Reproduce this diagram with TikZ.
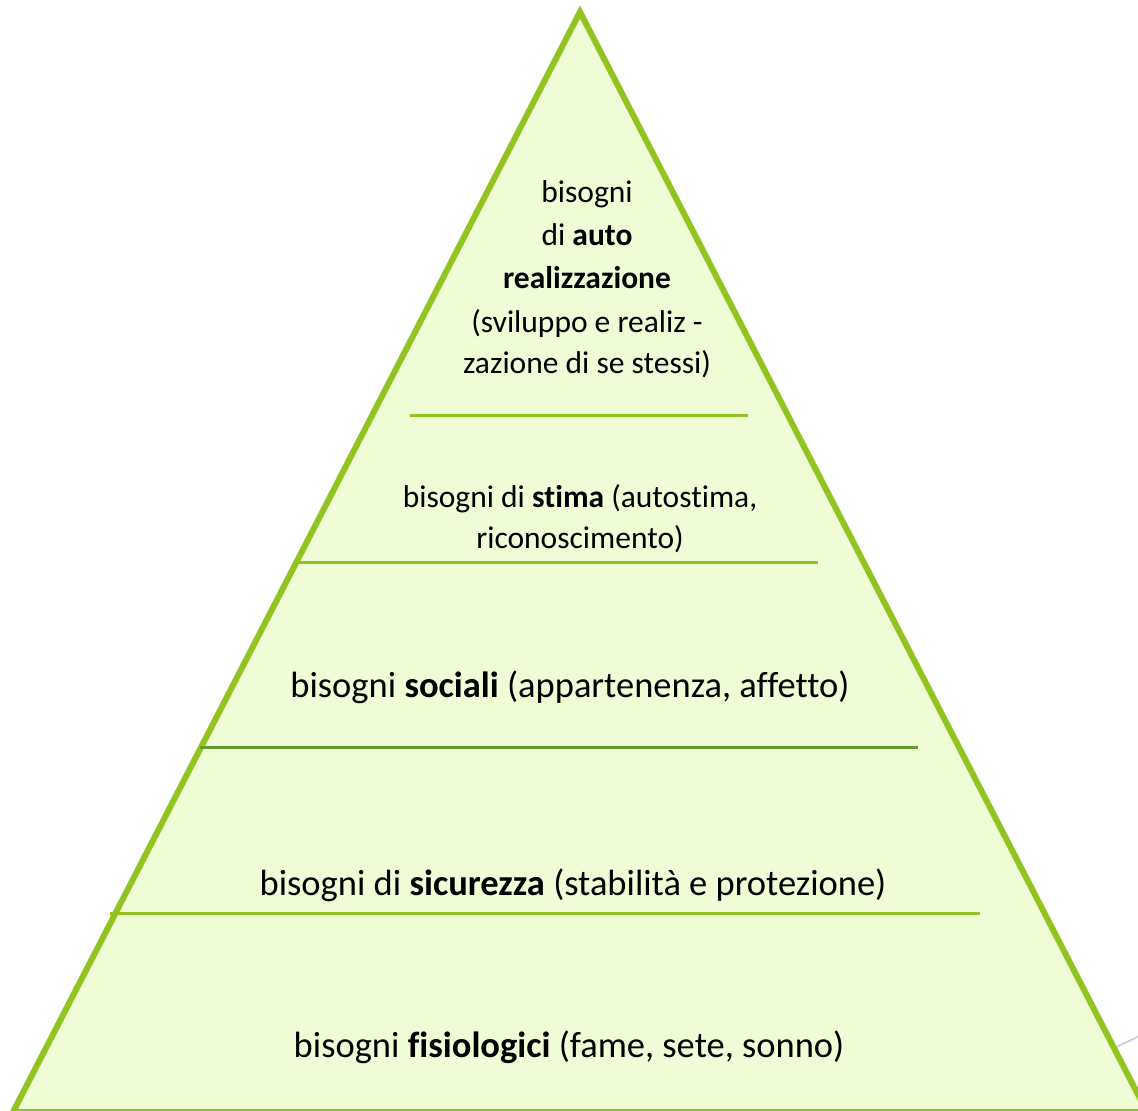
\documentclass[tikz,border=0pt]{standalone}
\usepackage{fontspec}
\setmainfont{Carlito}[RawFeature={-liga}]
\usepackage{xcolor}
\usetikzlibrary{calc}

\definecolor{pyrfill}{HTML}{EFFCD6}
\definecolor{pyredge}{HTML}{92C421}
\definecolor{pyrdark}{HTML}{5E9F2A}

\begin{document}
\begin{tikzpicture}[
    x=1pt, y=-1pt,
    level/.style={draw=pyredge, line width=3pt},
    smalltext/.style={inner sep=0pt, anchor=base, align=center, font=\fontsize{31.5}{43}\selectfont},
    bigtext/.style={inner sep=0pt, anchor=base, font=\fontsize{36.5}{43}\selectfont}
]
\useasboundingbox (0,0) rectangle (1138,1111);
\clip (0,0) rectangle (1138,1111);

% Pyramid
\coordinate (apex) at (580,12);
\coordinate (baseL) at (13,1112);
\coordinate (baseR) at (1147,1112);
\draw[draw=gray!35, line width=2pt] ($(apex)!0.942!(baseR)$) -- (1152,1030);
\draw[fill=pyrfill, draw=pyredge, line width=6pt] (apex) -- (baseL) -- (baseR) -- cycle;

% Levels
\draw[level] (410,415) -- (748,415);
\draw[level] (298,562) -- (818,562);
\draw[level, draw=pyrdark] (200,747) -- (918,747);
\draw[level] (110,913) -- (980,913);

% Texts
\node[smalltext] (auto1) at (587,202) {bisogni};
\node[smalltext] (auto2) at (587,245) {di \textbf{auto}};
\node[smalltext] (auto3) at (587,288) {\textbf{realizzazione}};
\node[smalltext] (auto4) at (587,332) {(sviluppo e realiz -};
\node[smalltext] (auto5) at (587,373) {zazione di se stessi)};

\node[smalltext] (stima1) at (580,507) {bisogni di \textbf{stima} (autostima,};
\node[smalltext] (stima2) at (580,548) {riconoscimento)};

\node[bigtext] (sociali) at (570,697) {bisogni \textbf{sociali} (appartenenza, affetto)};
\node[bigtext] (sicurezza) at (573,895) {bisogni di \textbf{sicurezza} (stabilità e protezione)};
\node[bigtext] (fisio) at (569,1057) {bisogni \textbf{fisiologici} (fame, sete, sonno)};

\end{tikzpicture}
\end{document}
